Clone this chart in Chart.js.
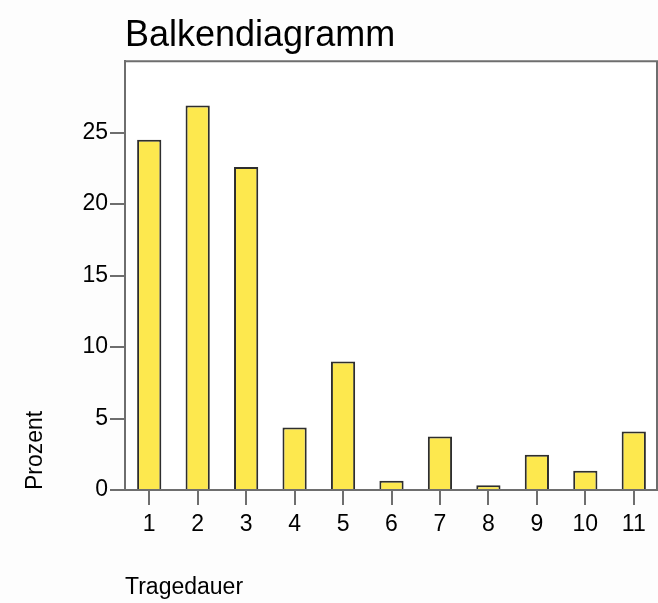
<!DOCTYPE html>
<html>
<head>
<meta charset="utf-8">
<script src="https://cdn.jsdelivr.net/npm/chart.js@4"></script>
<style>
    body { margin: 0; background: #fdfdfd; }
    canvas { display: block; }
</style>
</head>
<body>
<canvas id="bar-chart" width="658" height="603"></canvas>
<script>
const categories = ['1', '2', '3', '4', '5', '6', '7', '8', '9', '10', '11'];
const prozent = [24.5, 26.9, 22.6, 4.37, 8.99, 0.65, 3.74, 0.33, 2.47, 1.35, 4.09];
const yTicks = [0, 5, 10, 15, 20, 25];

const FONT = "'Liberation Sans', Arial, sans-serif";
const AXIS_GRAY = '#6e6e6e';

// frame around the plot area (top + right side)
const plotFrame = {
    id: 'plotFrame',
    beforeDraw(chart) {
        const {ctx, chartArea: {left, top, right, bottom}} = chart;
        ctx.save();
        ctx.fillStyle = '#ffffff';
        ctx.fillRect(left, top, right - left, bottom - top);
        ctx.restore();
    },
    afterDraw(chart) {
        const {ctx, chartArea: {left, top, right, bottom}} = chart;
        ctx.save();
        ctx.strokeStyle = AXIS_GRAY;
        ctx.lineWidth = 2;
        ctx.beginPath();
        ctx.moveTo(left, top);
        ctx.lineTo(right - 1, top);
        ctx.lineTo(right - 1, bottom);
        ctx.stroke();
        ctx.restore();
    }
};

const ctx = document.getElementById('bar-chart').getContext('2d');

const myChart = new Chart(ctx, {
    type: 'bar',
    data: {
        labels: categories,
        datasets: [{
            label: 'Prozent',
            data: prozent,
            backgroundColor: '#fde84e',
            borderColor: '#2e2e2e',
            borderWidth: 2,
            barPercentage: 0.5,
            categoryPercentage: 1.0
        }]
    },
    options: {
        responsive: false,
        animation: false,
        layout: {
            padding: 0
        },
        scales: {
            x: {
                afterFit(scale) {
                    scale.height = 113;
                },
                grid: {
                    offset: false, // tick marks under the bar centres
                    drawOnChartArea: false,
                    color: AXIS_GRAY,
                    lineWidth: 2,
                    tickLength: 15
                },
                border: {
                    color: AXIS_GRAY,
                    width: 2
                },
                ticks: {
                    color: '#000',
                    padding: 6,
                    maxRotation: 0,
                    font: {family: FONT, size: 23}
                },
                title: {
                    display: true,
                    text: 'Tragedauer',
                    align: 'start',
                    color: '#000',
                    padding: {top: 0, bottom: 2},
                    font: {family: FONT, size: 23}
                }
            },
            y: {
                min: 0,
                max: 30,
                afterFit(scale) {
                    scale.width = 125;
                },
                afterBuildTicks(scale) {
                    scale.ticks = yTicks.map(v => ({value: v}));
                },
                grid: {
                    drawOnChartArea: false,
                    color: AXIS_GRAY,
                    lineWidth: 2,
                    tickLength: 15
                },
                border: {
                    color: AXIS_GRAY,
                    width: 2
                },
                ticks: {
                    color: '#000',
                    padding: 2,
                    font: {family: FONT, size: 23}
                },
                title: {
                    display: true,
                    text: 'Prozent',
                    align: 'start',
                    color: '#000',
                    padding: {top: 22, bottom: 0},
                    font: {family: FONT, size: 23}
                }
            }
        },
        plugins: {
            legend: {
                display: false
            },
            tooltip: {
                enabled: false
            },
            title: {
                display: true,
                text: 'Balkendiagramm',
                align: 'start',
                fullSize: false,
                color: '#000',
                padding: {top: 14, bottom: 4},
                font: {family: FONT, size: 36, weight: 'normal'}
            }
        }
    },
    plugins: [plotFrame]
});
</script>
</body>
</html>
